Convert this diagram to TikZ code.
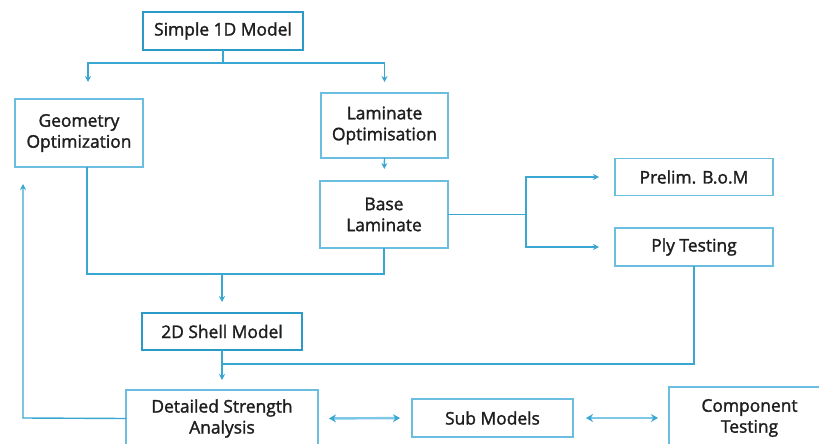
\documentclass[tikz,border=0pt]{standalone}
\usepackage{fontspec}
\setmainfont{Open Sans}
\newfontfamily\labfont{Open Sans}[FakeBold=1.6]
\usetikzlibrary{arrows.meta,calc}
\definecolor{linec}{HTML}{3AA7D2}
\definecolor{boxc}{HTML}{6BBEDF}
\definecolor{boxd}{HTML}{2B9AC6}
\definecolor{dblc}{HTML}{7CC8E6}
\definecolor{txt}{HTML}{1E1E1E}
\newcommand{\fs}{\labfont\fontsize{17.4}{21}\selectfont}
\tikzset{
  box/.style={draw=boxc, line width=1.3pt, inner sep=0pt, outer sep=0pt, align=center, font=\fs, text=txt},
  boxthick/.style={box, draw=boxd, line width=2.6pt},
  conn/.style={draw=linec, line width=1.4pt},
  arr/.style={conn, -{Stealth[length=6pt,width=6pt]}},
  dbl/.style={draw=dblc, line width=2.4pt, {Stealth[length=7pt,width=8pt,color=linec]}-{Stealth[length=7pt,width=8pt,color=linec]}}
}
\begin{document}
\begin{tikzpicture}[x=1pt,y=-1pt]
\useasboundingbox (0,0) rectangle (819,444);
\fill[white] (0,0) rectangle (819,444);
\clip (0,0) rectangle (819,444);

\node[boxthick, minimum width=160pt, minimum height=38pt] (s1d) at (223,31) {Simple 1D Model};
\node[box, minimum width=128pt, minimum height=68pt] (geo) at (79,133) {Geometry\\Optimization};
\node[box, minimum width=127pt, minimum height=65pt] (lam) at (384.5,125.5) {Laminate\\Optimisation};
\node[box, minimum width=128pt, minimum height=67pt] (base) at (384,214.5) {Base\\Laminate};
\node[box, minimum width=158pt, minimum height=37pt] (prelim) at (694,177) {Prelim. B.o.M};
\node[box, minimum width=158pt, minimum height=38pt] (ply) at (694,247) {Ply Testing};
\node[boxthick, minimum width=160pt, minimum height=37pt] (shell) at (222,331.5) {2D Shell Model};
\node[box, minimum width=192pt, minimum height=57pt] (det) at (222,418.5) {Detailed Strength\\Analysis};
\node[box, minimum width=161pt, minimum height=38pt] (sub) at (492.5,418) {Sub Models};
\node[box, minimum width=161pt, minimum height=62pt] (comp) at (749.5,418) {Component\\Testing};

\coordinate (split1) at ($(s1d.south)+(0,13)$);
\coordinate (geotop) at ($(geo.north)+(9,0)$);
\coordinate (geobot) at ($(geo.south)+(8,0)$);
\coordinate (join) at (222,274);
\coordinate (branch) at (526,214.5);
\coordinate (plyjoin) at (222,364);
\coordinate (fb) at (23,418);

% top split
\draw[conn] (s1d.south) -- (split1);
\draw[arr, shorten >=17pt] (split1) -| (geotop);
\draw[arr, shorten >=11pt] (split1) -| (lam.north);
% laminate chain
\draw[arr, shorten >=12pt] (lam.south) -- (base.north);
% merge to 2D shell
\draw[conn] (geobot) |- (join);
\draw[conn] (base.south) |- (join);
\draw[arr, shorten >=11pt] (join) -- (shell.north);
% branch to prelim / ply
\draw[conn] (base.east) -- (branch);
\draw[arr, shorten >=16pt] (branch) |- (prelim.west);
\draw[arr, shorten >=16pt] (branch) |- (ply.west);
% ply testing to detailed
\draw[conn] (ply.south) |- (plyjoin);
\draw[arr, shorten >=10pt] (shell.south) -- (det.north);
% feedback
\draw[arr, shorten >=17pt] (det.west) -- (fb) -- (fb |- geo.south);
% double arrows
\draw[dbl, shorten <=11pt, shorten >=12pt] (det.east) -- (sub.west);
\draw[dbl, shorten <=13pt, shorten >=11pt] (sub.east) -- (comp.west);
\end{tikzpicture}
\end{document}
